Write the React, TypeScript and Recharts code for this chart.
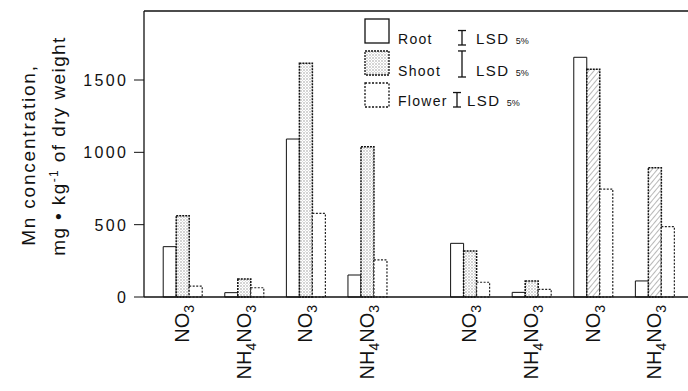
import React from "react";
import { BarChart, Bar, XAxis, YAxis, Cell, ReferenceLine } from "recharts";

// x positions of the treatment groups (gap between the two halves)
const positions = [0, 3, 6, 9, 14, 17, 20, 23];
const treatments = ["NO3", "NH4NO3", "NO3", "NH4NO3", "NO3", "NH4NO3", "NO3", "NH4NO3"];
const root = [348, 30, 1092, 152, 371, 32, 1657, 111];
const shoot = [562, 124, 1615, 1039, 318, 111, 1574, 894];
const flower = [75, 64, 578, 256, 102, 53, 746, 486];
const yTicks = [0, 500, 1000, 1500];
const lsdNames = ["Root", "Shoot", "Flower"];
const lsdValues = [100, 180, 100];

const data = positions.map((pos, i) => ({
  pos,
  root: root[i],
  shoot: shoot[i],
  flower: flower[i],
}));

const W = 688;
const H = 391;
const TOP = 11;
const BOTTOM = 94;
const Y_MAX = 1977;
const pxPerUnit = (H - TOP - BOTTOM) / Y_MAX;
const font = "'Liberation Sans', Arial, sans-serif";

// split "NH4NO3" into letters and subscript digits
const chemParts = (s: string) => s.match(/[A-Z]+|\d+/g) || [];

const TreatmentTick = (props: any) => {
  const { x, y, payload } = props;
  const idx = positions.indexOf(payload.value);
  const label = treatments[idx] || "";
  const tx = x + 6;
  let sub = false;
  return (
    <text
      x={tx}
      y={y}
      transform={`rotate(-90, ${tx}, ${y})`}
      textAnchor="end"
      fontSize={20}
      fontFamily={font}
      fill="#111"
    >
      {chemParts(label).map((p, k) => {
        const isNum = /\d/.test(p);
        const dy = isNum && !sub ? 5 : !isNum && sub ? -5 : 0;
        sub = isNum;
        return (
          <tspan key={k} dy={dy} fontSize={isNum ? 14 : 20}>
            {p}
          </tspan>
        );
      })}
    </text>
  );
};

// wide-set digits, one glyph per tspan
const PITCH = 11.3;
const ValueTick = (props: any) => {
  const { x, y, payload } = props;
  const chars = String(payload.value).split("");
  const start = x - 1 - chars.length * PITCH + 2.4;
  return (
    <text y={y} dy={6} fontSize={16} fontFamily={font} fill="#111">
      {chars.map((c, i) => (
        <tspan key={i} x={start + i * PITCH}>
          {c}
        </tspan>
      ))}
    </text>
  );
};

const legendRows = [
  { box: 19, base: 44, lsdX: 462, lsdBottom: 45, textX: 476, stroke: "none", fill: "#fff" },
  { box: 51, base: 76, lsdX: 462, lsdBottom: 77, textX: 476, stroke: "2 1", fill: "url(#stipple)" },
  { box: 83, base: 106, lsdX: 457, lsdBottom: 107, textX: 467, stroke: "2 1.5", fill: "#fff" },
];

const Overlay = () => (
  <svg
    width={W}
    height={H}
    style={{ position: "absolute", left: 0, top: 0, pointerEvents: "none" }}
  >
    <text
      x={35}
      y={155}
      transform="rotate(-90, 35, 155)"
      textAnchor="middle"
      fontSize={19}
      letterSpacing={1.8}
      fontFamily={font}
      fill="#111"
    >
      Mn concentration,
    </text>
    <text
      x={65}
      y={146}
      transform="rotate(-90, 65, 146)"
      textAnchor="middle"
      fontSize={19}
      letterSpacing={1.4}
      fontFamily={font}
      fill="#111"
    >
      mg • kg
      <tspan dy={-7} fontSize={12}>-1</tspan>
      <tspan dy={7}> of dry weight</tspan>
    </text>
    {legendRows.map((r, i) => {
      const h = lsdValues[i] * pxPerUnit;
      return (
        <g key={i}>
          <rect
            x={365}
            y={r.box}
            width={24}
            height={24}
            fill={r.fill}
            stroke="#111"
            strokeWidth={1.3}
            strokeDasharray={r.stroke === "none" ? undefined : r.stroke}
          />
          <text x={398} y={r.base} fontSize={14} letterSpacing={1.3} fontFamily={font} fill="#111">
            {lsdNames[i]}
          </text>
          <line x1={r.lsdX} x2={r.lsdX} y1={r.lsdBottom - h} y2={r.lsdBottom} stroke="#111" strokeWidth={1.3} />
          <line x1={r.lsdX - 4} x2={r.lsdX + 4} y1={r.lsdBottom - h} y2={r.lsdBottom - h} stroke="#111" strokeWidth={1.3} />
          <line x1={r.lsdX - 4} x2={r.lsdX + 4} y1={r.lsdBottom} y2={r.lsdBottom} stroke="#111" strokeWidth={1.3} />
          <text x={r.textX} y={r.base} fontSize={15} letterSpacing={1.5} fontFamily={font} fill="#111">
            LSD
            <tspan dx={6} fontSize={9} letterSpacing={0}>5%</tspan>
          </text>
        </g>
      );
    })}
  </svg>
);

export default function App() {
  return (
    <div style={{ position: "absolute", left: 0, top: 0, width: W, height: H, background: "#fff" }}>
      <BarChart
        width={W}
        height={H}
        data={data}
        margin={{ top: TOP, right: 0, bottom: 0, left: 0 }}
        barGap={0}
        barSize={13}
      >
        <defs>
          <pattern id="stipple" patternUnits="userSpaceOnUse" width={3} height={3}>
            <rect width={3} height={3} fill="#fff" />
            <circle cx={1} cy={1} r={0.7} fill="#8a8a8a" />
            <circle cx={2.5} cy={2.4} r={0.45} fill="#aaa" />
          </pattern>
          <pattern id="hatch" patternUnits="userSpaceOnUse" width={4} height={4} patternTransform="rotate(40)">
            <rect width={4} height={4} fill="#fff" />
            <line x1={0} y1={0} x2={0} y2={4} stroke="#888" strokeWidth={1.2} />
          </pattern>
        </defs>
        <XAxis
          type="number"
          dataKey="pos"
          domain={[-1.9, 24.6]}
          ticks={positions}
          interval={0}
          allowDataOverflow
          height={BOTTOM}
          tickLine={false}
          axisLine={{ stroke: "#111", strokeWidth: 1.5 }}
          tick={<TreatmentTick />}
        />
        <YAxis
          width={144}
          domain={[0, Y_MAX]}
          ticks={yTicks}
          interval={0}
          tickSize={10}
          tickMargin={7}
          axisLine={{ stroke: "#111", strokeWidth: 1.3 }}
          tickLine={{ stroke: "#111" }}
          tick={<ValueTick />}
        />
        <ReferenceLine y={Y_MAX} stroke="#111" strokeWidth={1.5} />
        <Bar dataKey="root" fill="#fff" stroke="#111" strokeWidth={1} isAnimationActive={false} />
        <Bar
          dataKey="shoot"
          stroke="#111"
          strokeWidth={1.5}
          strokeDasharray="2 1"
          isAnimationActive={false}
        >
          {data.map((d, i) => (
            <Cell key={i} fill={i >= 6 ? "url(#hatch)" : "url(#stipple)"} />
          ))}
        </Bar>
        <Bar
          dataKey="flower"
          fill="#fff"
          stroke="#222"
          strokeWidth={1.2}
          strokeDasharray="2 1.5"
          isAnimationActive={false}
        />
      </BarChart>
      <Overlay />
    </div>
  );
}
